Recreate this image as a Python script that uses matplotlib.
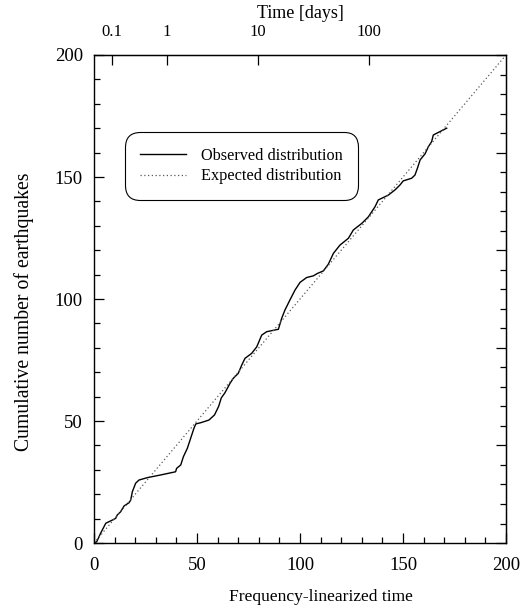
import matplotlib.pyplot as plt
from matplotlib.ticker import MultipleLocator, NullFormatter

# observed cumulative count vs frequency-linearized time
obs_x = [0, 1.3, 3.2, 5.7, 8.9, 10.5, 11.3, 12.9, 14.6, 17.0, 17.8, 18.6, 20.2,
         21.8, 25.9, 32.4, 39.6, 40.1, 42.1, 43.4, 45.3, 46.9, 48.5, 49.4, 51.8,
         55.8, 58.5, 60.5, 61.8, 63.5, 66.0, 67.6, 70.0, 71.7, 73.3, 76.5, 79.0,
         81.4, 83.8, 89.5, 91.1, 92.7, 95.1, 97.6, 100.0, 103.2, 106.5, 108.5,
         111.3, 113.7, 116.2, 119.4, 123.5, 125.9, 130.0, 133.2, 136.4, 138.0,
         142.9, 146.1, 148.5, 150.1, 154.2, 155.8, 157.0, 158.3, 160.7, 162.3,
         163.9, 164.7, 166.3, 171.2]
obs_y = [0, 0.5, 4.0, 8.1, 9.4, 10.1, 11.5, 12.8, 15.2, 16.5, 17.6, 21.0, 24.5,
         25.8, 26.8, 27.9, 29.2, 30.6, 32.0, 35.4, 38.8, 42.9, 47.0, 48.8, 49.3,
         50.4, 52.5, 56.0, 59.5, 61.5, 65.4, 67.5, 69.5, 72.9, 75.7, 77.7, 80.4,
         85.2, 86.6, 87.6, 92.1, 95.5, 99.6, 103.7, 106.8, 108.8, 109.5, 110.5,
         111.5, 114.2, 118.7, 122.1, 124.9, 128.3, 131.0, 133.7, 137.8, 140.6,
         142.6, 144.7, 146.7, 148.4, 149.5, 150.8, 153.6, 157.0, 159.5, 162.4,
         164.5, 167.2, 167.9, 170.0]

exp_x = [0, 200]
exp_y = [0, 200]

# top axis: real time in days at linearized positions
day_labels = ['0.1', '1', '10', '100']
day_pos = [8.7, 35.4, 79.6, 133.5]

plt.rcParams['font.family'] = ['Liberation Serif', 'DejaVu Serif']

fig = plt.figure(figsize=(5.2, 6.07), dpi=100)
ax = fig.add_axes([0.1808, 0.1054, 0.7923, 0.804])

ax.plot(obs_x, obs_y, color='black', lw=1.0, label='Observed distribution')
ax.plot(exp_x, exp_y, color='0.35', lw=0.9, linestyle=(0, (1, 2)),
        label='Expected distribution')

ax.set_xlim(0, 200)
ax.set_ylim(0, 200)
ax.xaxis.set_major_locator(MultipleLocator(50))
ax.xaxis.set_minor_locator(MultipleLocator(10))
ax.yaxis.set_major_locator(MultipleLocator(50))
ax.yaxis.set_minor_locator(MultipleLocator(10))
ax.tick_params(which='both', direction='in', labelsize=13.5, width=0.9)
ax.tick_params(which='major', length=7)
ax.tick_params(which='minor', length=4)
ax.tick_params(axis='x', pad=10)
ax.tick_params(axis='y', pad=8)
for s in ax.spines.values():
    s.set_linewidth(1.0)

ax.set_xlabel('Frequency-linearized time', fontsize=12.6)
ax.xaxis.set_label_coords(0.551, -0.095)
ax.set_ylabel('Cumulative number of earthquakes', fontsize=14.2)
ax.yaxis.set_label_coords(-0.146, 0.473)

right = ax.secondary_yaxis('right')
right.yaxis.set_major_locator(MultipleLocator(40))
right.yaxis.set_minor_locator(MultipleLocator(8))
right.yaxis.set_major_formatter(NullFormatter())
right.tick_params(which='both', direction='in', width=0.9)
right.tick_params(which='major', length=7)
right.tick_params(which='minor', length=4)

top = ax.secondary_xaxis('top')
top.set_xticks(day_pos)
top.set_xticklabels(day_labels)
top.tick_params(direction='in', length=7, width=0.9, labelsize=12, pad=11)
top.set_xlabel('Time [days]', fontsize=13, labelpad=4)

leg = ax.legend(loc='upper left', bbox_to_anchor=(0.075, 0.842), borderaxespad=0,
                fontsize=11.7, handlelength=2.8, handletextpad=0.95,
                labelspacing=0.3, borderpad=0.95, fancybox=True, framealpha=1)
leg.get_frame().set_edgecolor('black')
leg.get_frame().set_linewidth(0.8)
leg.get_frame().set_boxstyle('round', pad=0, rounding_size=0.9)

fig.savefig('out.png', dpi=100)
